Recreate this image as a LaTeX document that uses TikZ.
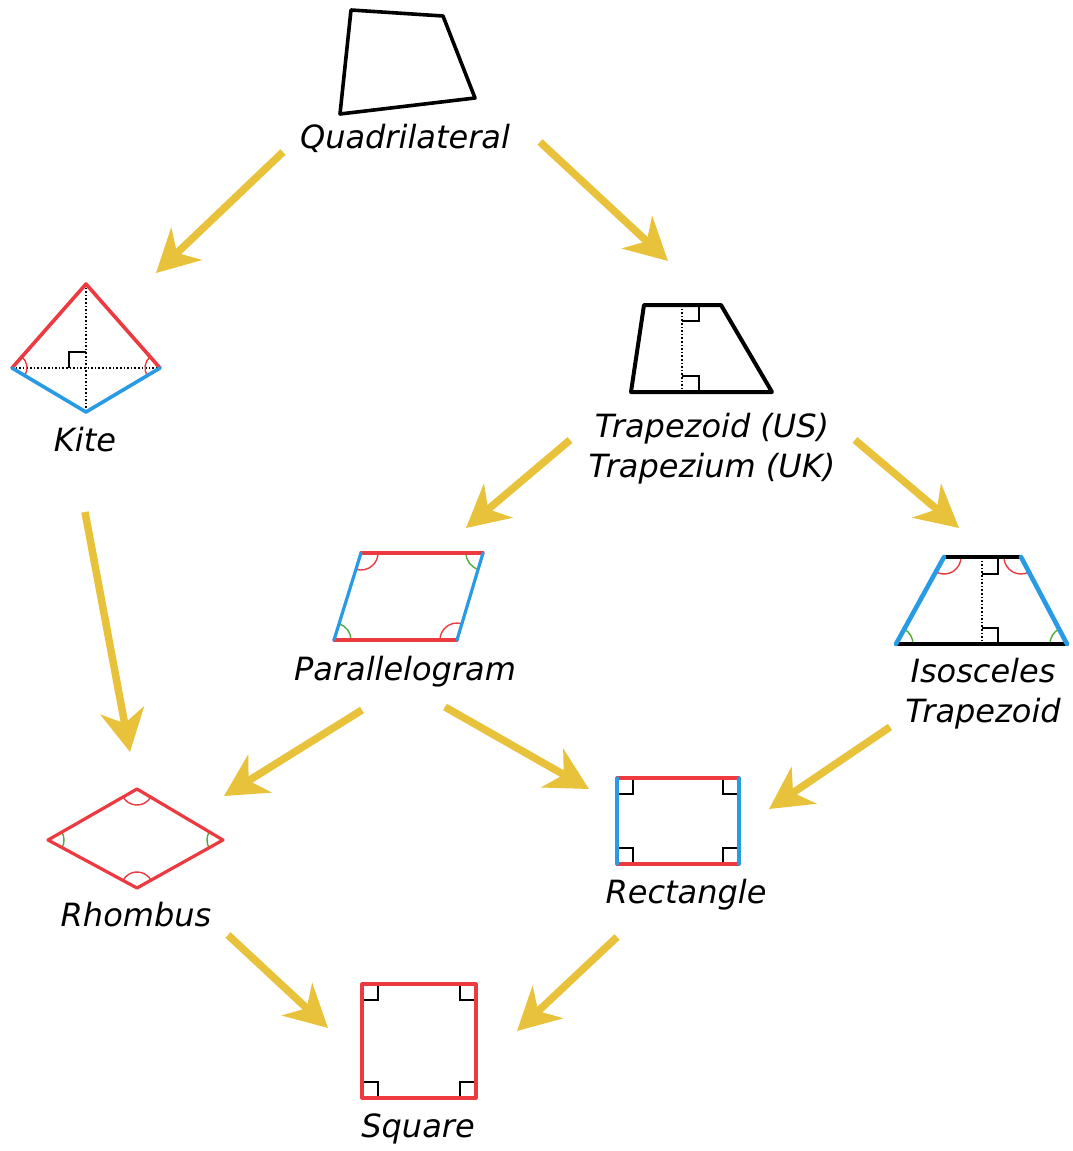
\documentclass[tikz,border=0pt]{standalone}
\usepackage{fontspec}
\setmainfont{DejaVu Sans}
\usetikzlibrary{arrows.meta,angles}
\definecolor{gold}{RGB}{232,194,58}
\definecolor{myred}{RGB}{236,58,64}
\definecolor{myblue}{RGB}{40,155,228}
\definecolor{mygreen}{RGB}{80,170,60}
\begin{document}
\begin{tikzpicture}[x=1pt,y=-1pt,
  lbl/.style={font=\fontsize{32}{40}\selectfont\itshape, anchor=base, align=center, inner sep=0pt},
  flow/.style={gold, line width=7.5pt, -{Stealth[length=42pt,width=44pt,inset=13pt]}},
  edge/.style={line width=3.6pt, line cap=round, line join=round},
  redge/.style={edge, myred},
  bedge/.style={edge, myblue},
  kedge/.style={edge, black},
  dots/.style={black, line width=1.6pt, dash pattern=on 1.6pt off 2pt},
  rmark/.style={black, line width=1.4pt},
  rarc/.style={draw=myred, line width=1.4pt},
  garc/.style={draw=mygreen, line width=1.4pt}
]
\useasboundingbox (0,0) rectangle (1073,1151);
\fill[white] (0,0) rectangle (1073,1151);

% ---------- Quadrilateral ----------
\coordinate (q1) at (351,10);
\coordinate (q2) at (443,16);
\coordinate (q3) at (475,98);
\coordinate (q4) at (340,114);
\draw[kedge] (q1) -- (q2) -- (q3) -- (q4) -- cycle;
\node[lbl] (lq) at (405,148) {Quadrilateral};

% ---------- Kite ----------
\coordinate (kt) at (86,284);
\coordinate (kl) at (12,368);
\coordinate (kr) at (160,368);
\coordinate (kb) at (86,412);
\draw[dots] (kt) -- (kb);
\draw[dots] (kl) -- (kr);
\draw[rmark] (69,368) -- (69,352) -- (86,352);
\pic[rarc, angle radius=15pt] {angle=kb--kl--kt};
\pic[rarc, angle radius=15pt] {angle=kt--kr--kb};
\draw[redge] (kl) -- (kt) -- (kr);
\draw[bedge] (kl) -- (kb) -- (kr);
\node[lbl] (lk) at (85,451) {Kite};

% ---------- Trapezoid ----------
\coordinate (ta) at (644,305);
\coordinate (tb) at (721,305);
\coordinate (tc) at (772,392);
\coordinate (td) at (631,392);
\draw[dots] (682,305) -- (682,392);
\draw[rmark] (682,321) -- (699,321) -- (699,305);
\draw[rmark] (682,376) -- (699,376) -- (699,392);
\draw[kedge, line width=4pt] (ta) -- (tb) -- (tc) -- (td) -- cycle;
\node[lbl] (lt) at (712,477) {Trapezoid (US)\\Trapezium (UK)};

% ---------- Parallelogram ----------
\coordinate (pa) at (361,553);
\coordinate (pb) at (483,553);
\coordinate (pc) at (457,640);
\coordinate (pd) at (334,640);
\pic[rarc, angle radius=17pt] {angle=pd--pa--pb};
\pic[garc, angle radius=17pt] {angle=pa--pb--pc};
\pic[rarc, angle radius=17pt] {angle=pb--pc--pd};
\pic[garc, angle radius=17pt] {angle=pc--pd--pa};
\draw[redge, line width=3.2pt] (pa) -- (pb);
\draw[redge, line width=3.2pt] (pd) -- (pc);
\draw[bedge, line width=3.2pt] (pa) -- (pd);
\draw[bedge, line width=3.2pt] (pb) -- (pc);
\node[lbl] (lp) at (405,680) {Parallelogram};

% ---------- Isosceles Trapezoid ----------
\coordinate (ia) at (944,557);
\coordinate (ib) at (1021,557);
\coordinate (ic) at (1067,644);
\coordinate (id) at (896,644);
\draw[dots] (982,557) -- (982,644);
\draw[rmark] (982,574) -- (998,574) -- (998,557);
\draw[rmark] (982,628) -- (998,628) -- (998,644);
\pic[rarc, angle radius=17pt] {angle=id--ia--ib};
\pic[rarc, angle radius=17pt] {angle=ia--ib--ic};
\pic[garc, angle radius=17pt] {angle=ib--ic--id};
\pic[garc, angle radius=17pt] {angle=ic--id--ia};
\draw[kedge, line width=3.2pt] (ia) -- (ib);
\draw[kedge, line width=3.2pt] (id) -- (ic);
\draw[bedge, line width=4.6pt] (ia) -- (id);
\draw[bedge, line width=4.6pt] (ib) -- (ic);
\node[lbl] (li) at (983,722) {Isosceles\\Trapezoid};

% ---------- Rhombus ----------
\coordinate (ra) at (137,789);
\coordinate (rr) at (223,840);
\coordinate (rb) at (137,888);
\coordinate (rl) at (48,840);
\pic[rarc, angle radius=16pt] {angle=rl--ra--rr};
\pic[garc, angle radius=16pt] {angle=ra--rr--rb};
\pic[rarc, angle radius=16pt] {angle=rr--rb--rl};
\pic[garc, angle radius=16pt] {angle=rb--rl--ra};
\draw[redge, line width=3.2pt] (ra) -- (rr) -- (rb) -- (rl) -- cycle;
\node[lbl] (lr) at (136,926) {Rhombus};

% ---------- Rectangle ----------
\coordinate (ea) at (617,778);
\coordinate (eb) at (739,778);
\coordinate (ec) at (739,864);
\coordinate (ed) at (617,864);
\draw[rmark] (617,794) -- (633,794) -- (633,778);
\draw[rmark] (739,794) -- (723,794) -- (723,778);
\draw[rmark] (617,848) -- (633,848) -- (633,864);
\draw[rmark] (739,848) -- (723,848) -- (723,864);
\draw[redge, line width=3.2pt] (ea) -- (eb);
\draw[redge, line width=3.2pt] (ed) -- (ec);
\draw[bedge, line width=3.2pt] (ea) -- (ed);
\draw[bedge, line width=3.2pt] (eb) -- (ec);
\node[lbl] (le) at (686,903) {Rectangle};

% ---------- Square ----------
\coordinate (sa) at (362,984);
\coordinate (sc) at (476,1098);
\draw[rmark] (362,1000) -- (378,1000) -- (378,984);
\draw[rmark] (476,1000) -- (460,1000) -- (460,984);
\draw[rmark] (362,1082) -- (378,1082) -- (378,1098);
\draw[rmark] (476,1082) -- (460,1082) -- (460,1098);
\draw[redge, line width=3.2pt] (sa) rectangle (sc);
\node[lbl] (ls) at (418,1137) {Square};

% ---------- Arrows ----------
\coordinate (a1s) at (283,152);  \coordinate (a1e) at (156,273);
\coordinate (a2s) at (540,142);  \coordinate (a2e) at (668,261);
\coordinate (a3s) at (85,512);   \coordinate (a3e) at (130,752);
\coordinate (a4s) at (570,440);  \coordinate (a4e) at (466,528);
\coordinate (a5s) at (855,440);  \coordinate (a5e) at (959,528);
\coordinate (a6s) at (362,710);  \coordinate (a6e) at (224,796);
\coordinate (a7s) at (445,707);  \coordinate (a7e) at (589,789);
\coordinate (a8s) at (890,727);  \coordinate (a8e) at (769,809);
\coordinate (a9s) at (228,935);  \coordinate (a9e) at (328,1028);
\coordinate (a10s) at (617,937); \coordinate (a10e) at (517,1031);
\foreach \i in {1,...,10} {\draw[flow] (a\i s) -- (a\i e);}
\end{tikzpicture}
\end{document}
